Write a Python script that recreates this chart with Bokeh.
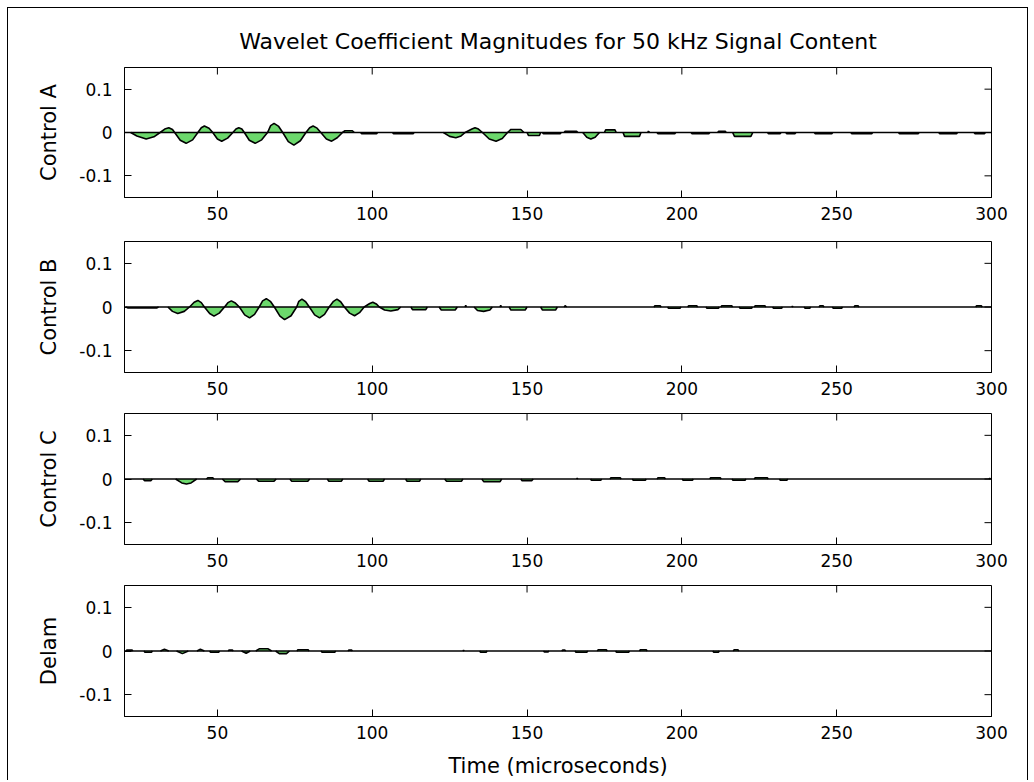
from bokeh.plotting import figure
from bokeh.layouts import column
from bokeh.models import Range1d, FixedTicker, Span
from bokeh.embed import file_html
from bokeh.resources import INLINE

TITLE = "Wavelet Coefficient Magnitudes for 50 kHz Signal Content"
X_LABEL = "Time (microseconds)"
panel_labels = ["Control A", "Control B", "Control C", "Delam"]
x_ticks = [50, 100, 150, 200, 250, 300]
y_ticks = [-0.1, 0, 0.1]
y_tick_labels = ["-0.1", "0", "0.1"]

# ---- Control A ----
a_t = [20.5, 22, 24, 27, 29.5, 31.5, 33, 34.3, 35.5, 36.2, 38, 39.9, 42, 43.7,
       44.8, 45.8, 47.3, 48.5, 50, 51.4, 53.3, 55, 56, 56.9, 57.9, 58.7,
       60.3, 62.2, 64.3, 66.2, 67.2, 68.3, 69.8, 71.1, 72.9, 74.7, 76.8, 78.6,
       79.8, 80.9, 82.2, 83.4, 85.2, 86.9, 88.7, 90.4, 91.2, 93.6, 94.2,
       96.3, 96.6, 101.4, 101.7, 106.6, 106.9, 113.2, 113.5,
       123, 125, 127, 128.7, 130, 132.2, 133.2, 134.3, 135.6, 137.8, 140, 142, 143.7,
       144.8, 148, 149, 150, 150.5, 154, 154.4, 155, 155.3, 160.7, 161,
       162, 162.3, 166, 166.4, 168, 169.3, 170.6, 172, 173.4, 175, 175.4, 178.4, 178.8,
       181, 181.5, 186.3, 186.8, 189, 189.2, 189.6, 192, 192.3, 197.7, 198,
       203, 203.3, 208.7, 209, 211.6, 211.9, 214, 214.3, 216.4, 217, 222.3, 222.9,
       227.7, 228, 231.7, 232, 233.6, 233.9, 236.5, 236.8, 242.8, 243.1, 248.4, 248.7,
       254.6, 254.9, 261.3, 261.6, 270, 270.3, 276.3, 276.6, 283, 283.3, 288.7, 289,
       294.4, 294.7, 297.7, 298, 300]
a_v = [0, 0, -0.008, -0.015, -0.010, 0, 0.008, 0.011, 0.007, 0, -0.018, -0.025, -0.017, 0,
       0.011, 0.015, 0.010, 0, -0.015, -0.020, -0.013, 0, 0.008, 0.011, 0.008, 0,
       -0.018, -0.025, -0.017, 0, 0.016, 0.021, 0.014, 0, -0.021, -0.029, -0.019, 0,
       0.011, 0.015, 0.010, 0, -0.015, -0.020, -0.012, 0, 0.004, 0.004, 0,
       0, -0.003, -0.003, 0, 0, -0.003, -0.003, 0,
       0, -0.009, -0.012, -0.008, 0, 0.008, 0.011, 0.008, 0, -0.015, -0.020, -0.014, 0,
       0.007, 0.007, 0, 0, -0.007, -0.007, 0, 0, -0.003, -0.003, 0,
       0, 0.003, 0.003, 0, 0, -0.011, -0.015, -0.011, 0, 0, 0.006, 0.006, 0,
       0, -0.009, -0.009, 0, 0, 0.003, 0, 0, -0.003, -0.003, 0,
       0, -0.003, -0.003, 0, 0, 0.003, 0.003, 0, 0, -0.009, -0.009, 0,
       0, -0.003, -0.003, 0, 0, -0.003, -0.003, 0, 0, -0.003, -0.003, 0,
       0, -0.003, -0.003, 0, 0, -0.003, -0.003, 0, 0, -0.003, -0.003, 0,
       0, -0.003, -0.003, 0, 0]

# ---- Control B ----
b_t = [20.5, 21, 30.5, 31, 34, 35.5, 37.2, 39.3, 41, 42.5, 43.7, 44.8, 45.8,
       47.5, 48.9, 50.6, 52.3, 53.4, 54.5, 55.8, 57.1, 58.8, 60.4, 62, 63.5,
       64.6, 65.8, 67.1, 68.4, 70.2, 71.7, 73.8, 75.6, 76.3, 77.3, 78.5, 79.7,
       81.4, 83, 84.6, 86.1, 87.5, 88.6, 89.8, 91, 92.7, 94.3, 95.9, 97.4,
       99.2, 100.2, 101.3, 102.3, 104, 106, 108.3, 109.2, 112.5, 113, 117.3, 117.8,
       121.6, 122.3, 126.8, 127.5, 130, 130.2, 130.4, 132.9, 134, 136, 138, 138.8,
       141.3, 141.5, 141.7, 144.2, 144.8, 149.4, 150, 154.4, 155, 159.2, 159.8,
       162, 162.3, 162.8, 191, 191.3, 193, 193.3, 195.4, 195.7, 199.4, 199.7,
       201.9, 202.2, 204.8, 205.1, 207.8, 208.1, 211.8, 212.1, 212.6, 212.9, 216.1, 216.4,
       218.5, 218.8, 222.5, 222.8, 223.4, 223.7, 226.8, 227.1, 229.3, 229.6, 232.2, 232.5,
       235.5, 235.7, 235.9, 239.5, 239.8, 241.3, 241.6, 244.3, 244.6, 245.6, 245.9,
       248.6, 248.9, 251.6, 251.9, 255.6, 255.9, 256.9, 257.2, 294.9, 295.2, 296.7, 297, 300]
b_v = [0, -0.002, -0.002, 0, 0, -0.010, -0.015, -0.010, 0, 0.011, 0.015, 0.010, 0,
       -0.015, -0.021, -0.014, 0, 0.010, 0.014, 0.009, 0, -0.018, -0.025, -0.017, 0,
       0.014, 0.019, 0.013, 0, -0.021, -0.029, -0.020, 0, 0.013, 0.018, 0.012, 0,
       -0.018, -0.025, -0.017, 0, 0.013, 0.018, 0.012, 0, -0.014, -0.020, -0.013, 0,
       0.008, 0.011, 0.007, 0, -0.007, -0.009, -0.006, 0, 0, -0.006, -0.006, 0,
       0, -0.007, -0.007, 0, 0, 0.004, 0, 0, -0.008, -0.010, -0.007, 0,
       0, 0.004, 0, 0, -0.007, -0.007, 0, 0, -0.007, -0.007, 0,
       0, 0.003, 0, 0, 0.003, 0.003, 0, 0, -0.003, -0.003, 0,
       0, 0.003, 0.003, 0, 0, -0.003, -0.003, 0, 0, 0.003, 0.003, 0,
       0, -0.003, -0.003, 0, 0, 0.003, 0.003, 0, 0, -0.003, -0.003, 0,
       0, 0.002, 0, 0, -0.003, -0.003, 0, 0, 0.003, 0.003, 0,
       0, -0.003, -0.003, 0, 0, 0.003, 0.003, 0, 0, 0.003, 0.003, 0, 0]

# ---- Control C ----
c_t = [20.5, 26, 26.5, 28.5, 29, 36.5, 38.5, 40, 41.5, 43.3, 46.5, 46.9, 48.5, 48.9,
       51.6, 52.5, 56.6, 57.5, 62.6, 63.3, 68.3, 69, 73.4, 74, 79.2, 79.8,
       85.5, 86, 90, 90.5, 98.5, 99, 103.5, 104, 110.8, 111.2, 115.3, 115.7,
       123.4, 124, 128.8, 129.3, 135.4, 136, 141.3, 141.8, 148, 148.4, 151.5, 152,
       166, 166.2, 166.4, 170.5, 170.8, 173.8, 174.1, 176.8, 177.1, 180.1, 180.4,
       184, 184.3, 188.2, 188.5, 192, 192.3, 194.4, 194.7, 200.1, 200.4, 203.4, 203.7,
       209, 209.3, 212.4, 212.7, 216.2, 216.5, 220.4, 220.7, 223.4, 223.7, 227.6, 227.9,
       231.5, 231.8, 233.9, 234.2, 299.2, 299.4, 299.6, 300]
c_v = [0, 0, -0.004, -0.004, 0, 0, -0.009, -0.0115, -0.009, 0, 0, 0.003, 0.003, 0,
       0, -0.006, -0.006, 0, 0, -0.005, -0.005, 0, 0, -0.005, -0.005, 0,
       0, -0.005, -0.005, 0, 0, -0.005, -0.005, 0, 0, -0.005, -0.005, 0,
       0, -0.005, -0.005, 0, 0, -0.006, -0.006, 0, 0, -0.004, -0.004, 0,
       0, 0.002, 0, 0, -0.003, -0.003, 0, 0, 0.003, 0.003, 0,
       0, -0.003, -0.003, 0, 0, 0.003, 0.003, 0, 0, -0.003, -0.003, 0,
       0, 0.003, 0.003, 0, 0, -0.003, -0.003, 0, 0, 0.003, 0.003, 0,
       0, -0.003, -0.003, 0, 0, 0.002, 0, 0]

# ---- Delam ----
d_t = [20.5, 20.7, 22.5, 22.7, 26.3, 26.6, 28.7, 29, 31.6, 32.9, 34.3, 36.8, 38.7, 40.6,
       43.4, 44.5, 45.8, 47.5, 47.8, 50.4, 50.7, 53.5, 53.7, 54.9, 55.1, 57.8, 59.3, 60.6,
       62.4, 63.5, 66.4, 67.5, 68.8, 70, 72.3, 73.3, 75.7, 76, 79.3, 79.6,
       83.5, 83.8, 87.9, 88.2, 92.2, 92.4, 93.4, 93.6, 129.3, 129.5, 129.7,
       134.7, 135, 136.8, 137.1, 155.3, 155.6, 156.8, 157.1, 161.2, 161.5, 162.2, 162.5,
       165.5, 165.8, 169.3, 169.6, 172.7, 173, 175.6, 175.9, 178.6, 178.9, 182.8, 183.1,
       186.3, 186.6, 188.5, 188.8, 210, 210.3, 211.8, 212.1, 216.6, 216.9, 218.1, 218.4, 300]
d_v = [0, 0.002, 0.002, 0, 0, -0.003, -0.003, 0, 0, 0.004, 0, 0, -0.006, 0,
       0, 0.004, 0, 0, -0.003, -0.003, 0, 0, 0.002, 0.002, 0, 0, -0.005, 0,
       0, 0.005, 0.005, 0, 0, -0.006, -0.006, 0, 0, 0.003, 0.003, 0,
       0, -0.003, -0.003, 0, 0, 0.002, 0.002, 0, 0, 0.002, 0,
       0, -0.003, -0.003, 0, 0, -0.002, -0.002, 0, 0, 0.002, 0.002, 0,
       0, -0.003, -0.003, 0, 0, 0.003, 0.003, 0, 0, -0.003, -0.003, 0,
       0, 0.003, 0.003, 0, 0, -0.003, -0.003, 0, 0, 0.003, 0.003, 0, 0]

series = [(a_t, a_v), (b_t, b_v), (c_t, c_v), (d_t, d_v)]

FONT = "DejaVu Sans"
FILL = "#6cd86c"
FRAME_W = 867
TICK_LEN = 7
X0, X1 = 20, 300
Y0, Y1 = -0.15, 0.15


def outline_runs(t, v):
    xs, ys, cx, cy = [], [], [], []
    for i in range(len(t) - 1):
        if v[i] == 0 and v[i + 1] == 0:
            if cx:
                xs.append(cx)
                ys.append(cy)
                cx, cy = [], []
            continue
        if not cx:
            cx, cy = [t[i]], [v[i]]
        cx.append(t[i + 1])
        cy.append(v[i + 1])
    if cx:
        xs.append(cx)
        ys.append(cy)
    return xs, ys


def style_axis(ax, ticks):
    ax.ticker = FixedTicker(ticks=ticks)
    ax.major_tick_in = TICK_LEN
    ax.major_tick_out = 0
    ax.minor_tick_in = 0
    ax.minor_tick_out = 0
    ax.axis_line_color = "black"
    ax.major_tick_line_color = "black"
    ax.major_tick_line_width = 1
    ax.major_label_text_font = FONT
    ax.major_label_text_color = "black"
    ax.major_label_text_font_size = "17px"


# layout: (min_border_top, frame_height, min_border_bottom)
dims = [(59, 130, 32), (12, 131, 29), (12, 131, 29), (12, 131, 62)]

figs = []
for k, ((t, v), lab) in enumerate(zip(series, panel_labels)):
    bt, fh, bb = dims[k]
    p = figure(frame_width=FRAME_W, frame_height=fh,
               x_range=Range1d(X0, X1), y_range=Range1d(Y0, Y1),
               output_backend="svg", toolbar_location=None,
               min_border_left=116, min_border_right=36,
               min_border_top=bt, min_border_bottom=bb,
               background_fill_color="white", border_fill_color="white")
    p.xgrid.visible = False
    p.ygrid.visible = False
    p.outline_line_color = "black"
    p.outline_line_width = 1

    bottom_ax = p.xaxis[0]
    left_ax = p.yaxis[0]

    p.varea(x=t, y1=[0] * len(t), y2=v, fill_color=FILL)
    xs, ys = outline_runs(t, v)
    p.multi_line(xs=xs, ys=ys, line_color="black", line_width=1.6)
    p.add_layout(Span(location=0, dimension="width", line_color="black", line_width=1.3))

    # inward tick marks on the top and right edges of the box
    dy = (Y1 - Y0) * TICK_LEN / fh
    dx = (X1 - X0) * TICK_LEN / FRAME_W
    p.segment(x0=x_ticks, y0=[Y1] * len(x_ticks), x1=x_ticks, y1=[Y1 - dy] * len(x_ticks),
              line_color="black", line_width=1)
    p.segment(x0=[X1] * len(y_ticks), y0=y_ticks, x1=[X1 - dx] * len(y_ticks), y1=y_ticks,
              line_color="black", line_width=1)

    style_axis(bottom_ax, x_ticks)
    style_axis(left_ax, y_ticks)
    left_ax.major_label_overrides = {tv: tl for tv, tl in zip(y_ticks, y_tick_labels)}
    left_ax.major_label_standoff = 12
    bottom_ax.major_label_standoff = 9
    left_ax.axis_label = lab
    left_ax.axis_label_text_font = FONT
    left_ax.axis_label_text_font_size = "21px"
    left_ax.axis_label_text_font_style = "normal"
    left_ax.axis_label_text_color = "black"
    left_ax.axis_label_standoff = 15

    if k == 0:
        p.title.text = TITLE
        p.title.align = "center"
        p.title.vertical_align = "top"
        p.title.text_font = FONT
        p.title.text_font_size = "22px"
        p.title.text_font_style = "normal"
        p.title.text_color = "black"
        p.title.standoff = 24
    if k == 3:
        bottom_ax.axis_label = X_LABEL
        bottom_ax.axis_label_text_font = FONT
        bottom_ax.axis_label_text_font_size = "21px"
        bottom_ax.axis_label_text_font_style = "normal"
        bottom_ax.axis_label_text_color = "black"
        bottom_ax.axis_label_standoff = 12
    figs.append(p)

layout = column(*figs, spacing=0, margin=(7, 0, 0, 7),
                styles={"border-top": "1px solid black",
                        "border-left": "1px solid black",
                        "border-right": "1px solid black"})

with open("out.html", "w") as f:
    f.write(file_html(layout, INLINE))
